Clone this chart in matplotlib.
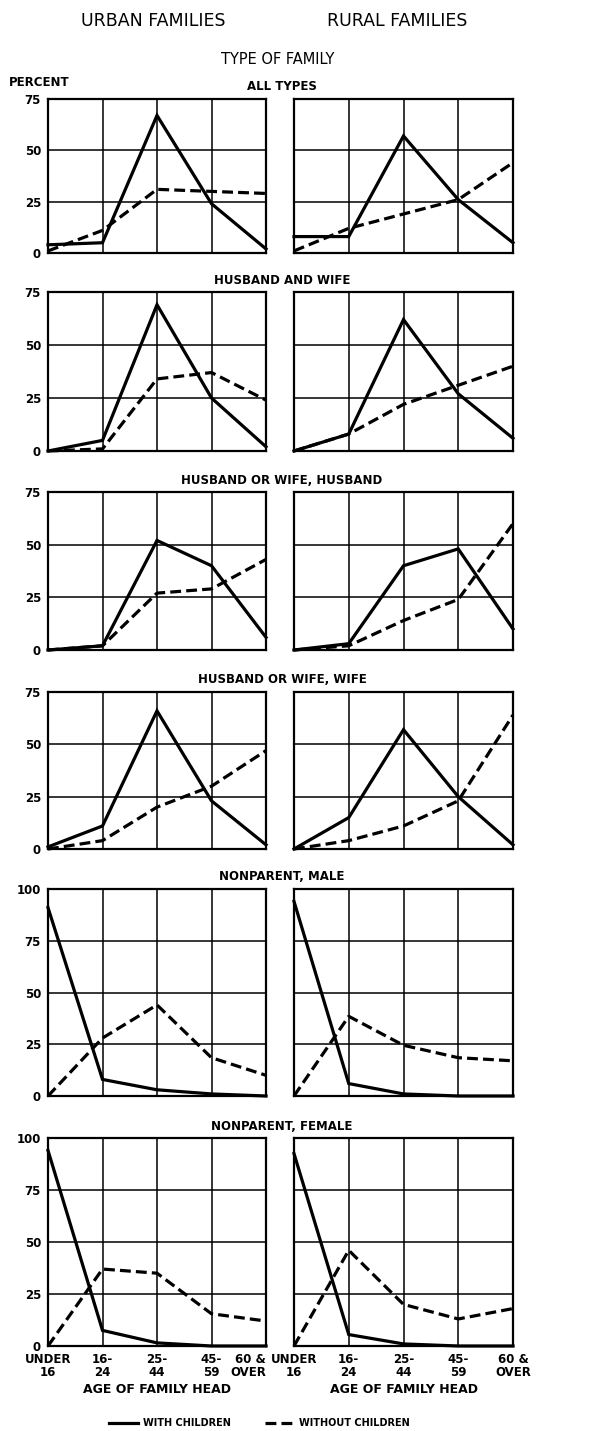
import matplotlib.pyplot as plt

plt.rcParams['font.family'] = ['DejaVu Sans']

# Age of family head (x categories)
ages = ["UNDER\n16", "16-\n24", "25-\n44", "45-\n59", "60 &\nOVER"]

family_types = ["ALL TYPES", "HUSBAND AND WIFE", "HUSBAND OR WIFE, HUSBAND",
                "HUSBAND OR WIFE, WIFE", "NONPARENT, MALE", "NONPARENT, FEMALE"]

# Percent values, one list per family type
urban_with = [
    [4, 5, 67, 24, 2],
    [0, 5, 69, 25, 2],
    [0, 2, 52, 40, 6],
    [1, 11, 66, 23, 2],
    [91, 8, 3, 1, 0],
    [94, 7.5, 1.5, 0, 0],
]
urban_without = [
    [1, 11, 31, 30, 29],
    [0, 1, 34, 37, 24],
    [0, 2, 27, 29, 43],
    [0, 4, 20, 30, 47],
    [0, 28, 44, 18.5, 10],
    [0, 37, 35, 15.5, 12],
]
rural_with = [
    [8, 8, 57, 26, 5],
    [0, 8, 62, 27, 6],
    [0, 3, 40, 48, 10],
    [0, 15, 57, 25, 2],
    [94, 6, 1, 0, 0],
    [92.5, 5.5, 1, 0, 0],
]
rural_without = [
    [1, 12, 19, 26, 44],
    [0, 8, 22, 31, 40],
    [0, 2, 14, 24, 60],
    [0, 4, 11, 23, 64],
    [0, 38.5, 24.5, 18.5, 17],
    [0, 46, 20, 13, 18],
]

W, H = 600, 1431
fig = plt.figure(figsize=(6, 14.31), dpi=100)

# layout in pixels (top, bottom) for each row and (left, right) for each column
rows = [(99, 253), (292, 451), (492, 650), (692, 849), (889, 1096), (1138, 1346)]
cols = [(48, 266), (294, 513)]

lw = 2.3
dash = (0, (3.4, 1.6))
handles = None

for r in range(6):
    top, bot = rows[r]
    ymax = 75 if r < 4 else 100
    for c in range(2):
        x0, x1 = cols[c]
        ax = fig.add_axes([x0 / W, 1 - bot / H, (x1 - x0) / W, (bot - top) / H])
        if c == 0:
            w, wo = urban_with[r], urban_without[r]
        else:
            w, wo = rural_with[r], rural_without[r]
        l1, = ax.plot(range(5), w, color='black', lw=lw, clip_on=False,
                      solid_joinstyle='miter', label='WITH CHILDREN', zorder=3)
        l2, = ax.plot(range(5), wo, color='black', lw=lw, ls=dash, clip_on=False,
                      label='WITHOUT CHILDREN', zorder=3)
        handles = [l1, l2]
        ax.set_xlim(0, 4)
        ax.set_ylim(0, ymax)
        ax.set_xticks(range(5))
        ax.set_yticks(range(0, ymax + 1, 25))
        ax.grid(True, color='black', lw=1.1)
        ax.set_axisbelow(True)
        for s in ax.spines.values():
            s.set_linewidth(1.6)
        ax.tick_params(length=0, labelsize=8.5, pad=5)
        for t in ax.get_yticklabels():
            t.set_fontweight('bold')
        if c == 1:
            ax.set_yticklabels([])
        if r == 5:
            ax.set_xticklabels(ages, fontweight='bold', linespacing=1.0)
            labs = ax.get_xticklabels()
            labs[-1].set_horizontalalignment('right' if c == 0 else 'center')
            ax.set_xlabel("AGE OF FAMILY HEAD", fontsize=9, fontweight='bold', labelpad=3)
        else:
            ax.set_xticklabels([])

    fig.text(282 / W, 1 - (top - 12) / H, family_types[r], ha='center', va='center',
             fontsize=8.5, fontweight='bold')

fig.text(153 / W, 1 - 21 / H, "URBAN FAMILIES", ha='center', va='center', fontsize=12.5)
fig.text(397 / W, 1 - 21 / H, "RURAL FAMILIES", ha='center', va='center', fontsize=12.5)
fig.text(278 / W, 1 - 59 / H, "TYPE OF FAMILY", ha='center', va='center', fontsize=10.5)
fig.text(9 / W, 1 - 82 / H, "PERCENT", ha='left', va='center', fontsize=8.5,
         fontweight='bold')

fig.legend(handles, ['WITH CHILDREN', 'WITHOUT CHILDREN'], loc='center',
           bbox_to_anchor=(259 / W, 1 - 1423 / H), ncol=2, frameon=False,
           handlelength=3, handletextpad=0.5, columnspacing=3.5,
           prop={'size': 7, 'weight': 'bold'})

fig.savefig('out.png', dpi=100, facecolor='white')
